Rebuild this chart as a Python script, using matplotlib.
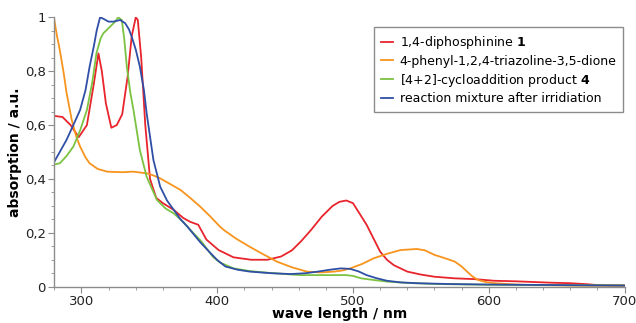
"""UV/Vis absorption spectra: diphosphinine, PTAD, cycloadduct and irradiated mixture."""

import matplotlib

matplotlib.use("Agg")

import matplotlib.pyplot as plt
from matplotlib.ticker import MultipleLocator

RED = "#e8242c"
ORANGE = "#f7941d"
GREEN = "#7cc242"
BLUE = "#2f4fa6"
AXIS = "#8c8c8c"

# wavelength (nm) / absorption (a.u.)
red_wl = [280, 286, 292, 298, 304, 309, 312.5, 315, 318, 322, 326, 330, 334, 337, 340,
          341.5, 344, 347, 350.5, 355, 360, 368, 375, 380, 386, 392, 401, 412, 425, 437,
          447, 455, 462, 469, 477, 485, 490, 495, 500, 505, 510, 515, 520, 525, 530, 540,
          550, 560, 575, 590, 604, 620, 645, 660, 673, 680, 700]
red_abs = [0.634, 0.63, 0.6, 0.555, 0.6, 0.75, 0.866, 0.8, 0.68, 0.59, 0.6, 0.64, 0.78,
           0.93, 1.0, 0.99, 0.85, 0.6, 0.4, 0.33, 0.31, 0.285, 0.255, 0.241, 0.23, 0.175,
           0.136, 0.109, 0.1, 0.1, 0.112, 0.135, 0.17, 0.21, 0.26, 0.3, 0.315, 0.32, 0.31,
           0.27, 0.23, 0.18, 0.13, 0.1, 0.08, 0.056, 0.045, 0.037, 0.031, 0.028, 0.022,
           0.02, 0.015, 0.013, 0.009, 0.006, 0.005]

orange_wl = [280, 282, 284, 287, 289, 292.8, 296, 299, 303, 306, 312, 319, 330, 338, 348,
             353, 358, 365, 373, 380, 387.5, 395, 402, 405, 414, 424, 434, 444, 455, 466,
             476, 486, 492, 498, 507, 515, 525, 535, 547, 553, 560, 567, 575, 580, 584,
             588, 592, 598, 604, 620, 634, 660, 700]
orange_abs = [0.99, 0.93, 0.88, 0.79, 0.72, 0.62, 0.56, 0.52, 0.48, 0.458, 0.437, 0.427,
              0.425, 0.427, 0.421, 0.413, 0.402, 0.382, 0.359, 0.33, 0.297, 0.26, 0.223,
              0.21, 0.178, 0.148, 0.12, 0.093, 0.072, 0.056, 0.053, 0.056, 0.06, 0.068,
              0.085, 0.105, 0.122, 0.136, 0.14, 0.135, 0.118, 0.107, 0.093, 0.075, 0.056,
              0.038, 0.025, 0.017, 0.013, 0.008, 0.006, 0.004, 0.003]

green_wl = [280, 284, 289, 294, 299, 304, 308, 311, 314, 316, 321, 325, 327, 329.7, 331.5,
            333.4, 336, 338.3, 343, 348, 355.6, 362, 368, 375, 382.6, 388, 392.5, 397, 402,
            412, 424, 437, 450, 461, 480, 495, 500, 506, 515, 525, 540, 560, 600, 650, 700]
green_abs = [0.454, 0.458, 0.485, 0.52, 0.58, 0.656, 0.76, 0.866, 0.92, 0.94, 0.965, 0.985,
             1.0, 0.99, 0.92, 0.817, 0.72, 0.656, 0.507, 0.408, 0.322, 0.29, 0.272, 0.24,
             0.198, 0.17, 0.14, 0.11, 0.09, 0.068, 0.058, 0.052, 0.047, 0.043, 0.043, 0.043,
             0.04, 0.031, 0.025, 0.019, 0.014, 0.01, 0.007, 0.006, 0.005]

blue_wl = [280, 284, 289, 294, 299, 303, 306, 309, 311.3, 313.7, 316, 319.9, 323.6, 328.5,
           332.2, 335, 337, 340, 343, 346, 348, 353, 358, 363, 368, 373, 378, 387.5, 394,
           400, 406, 415, 424, 440, 454, 465, 474, 483, 491, 498, 504, 510, 517, 525, 535,
           547, 570, 600, 650, 700]
blue_abs = [0.464, 0.5, 0.545, 0.6, 0.656, 0.73, 0.817, 0.89, 0.953, 1.0, 0.995, 0.984,
            0.984, 0.99, 0.978, 0.955, 0.928, 0.88, 0.817, 0.73, 0.644, 0.47, 0.371, 0.32,
            0.285, 0.25, 0.223, 0.165, 0.13, 0.099, 0.075, 0.063, 0.056, 0.05, 0.047, 0.05,
            0.056, 0.063, 0.068, 0.066, 0.057, 0.043, 0.032, 0.022, 0.016, 0.013, 0.01,
            0.008, 0.006, 0.004]

series = [
    (red_wl, red_abs, RED, r"1,4-diphosphinine $\mathbf{1}$"),
    (orange_wl, orange_abs, ORANGE, "4-phenyl-1,2,4-triazoline-3,5-dione"),
    (green_wl, green_abs, GREEN, r"[4+2]-cycloaddition product $\mathbf{4}$"),
    (blue_wl, blue_abs, BLUE, "reaction mixture after irridiation"),
]

y_ticks = [0, 0.2, 0.4, 0.6, 0.8, 1.0]
y_tick_labels = ["0", "0,2", "0,4", "0,6", "0,8", "1"]
x_ticks = [300, 400, 500, 600, 700]

plt.rcParams["mathtext.fontset"] = "dejavusans"

fig = plt.figure(figsize=(6.36, 3.23), dpi=100)
ax = fig.add_axes([0.0854, 0.1124, 0.8966, 0.834])

for wl, ab, color, label in series:
    ax.plot(wl, ab, color=color, lw=1.3, label=label)

ax.set_xlim(280, 700)
ax.set_ylim(0, 1.0)
ax.set_xticks(x_ticks)
ax.set_yticks(y_ticks)
ax.set_yticklabels(y_tick_labels)
ax.xaxis.set_minor_locator(MultipleLocator(20))
ax.yaxis.set_minor_locator(MultipleLocator(0.05))

for spine in ["top", "right"]:
    ax.spines[spine].set_visible(False)
for spine in ["left", "bottom"]:
    ax.spines[spine].set_color(AXIS)
    ax.spines[spine].set_linewidth(1.0)
ax.tick_params(which="major", direction="out", length=4, color=AXIS, labelsize=9.5,
               labelcolor="#222222", pad=2)
ax.tick_params(which="minor", direction="out", length=2.5, color=AXIS)

ax.set_xlabel("wave length / nm", fontsize=10, fontweight="bold", labelpad=-0.5)
ax.set_ylabel("absorption / a.u.", fontsize=10, fontweight="bold", labelpad=2)

leg = ax.legend(loc="upper right", bbox_to_anchor=(0.98, 0.916), bbox_transform=fig.transFigure,
                fontsize=9, handlelength=1.0, handletextpad=0.5, labelspacing=0.3,
                borderpad=0.55, borderaxespad=0, fancybox=False, framealpha=1, edgecolor=AXIS)
leg.get_frame().set_linewidth(1.0)

fig.savefig("out.png", dpi=100)
